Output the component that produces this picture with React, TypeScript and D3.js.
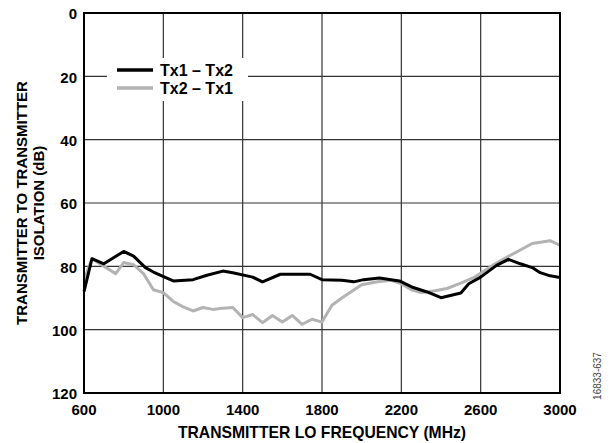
import React from "react";
import * as d3 from "d3";

const xTicks = [600, 1000, 1400, 1800, 2200, 2600, 3000];
const yTicks = [0, 20, 40, 60, 80, 100, 120];

const tx12Freq = [600, 640, 700, 800, 850, 910, 950, 1050, 1150, 1220, 1300, 1350, 1450, 1500, 1590, 1740, 1800, 1900, 1960, 2010, 2090, 2190, 2260, 2330, 2400, 2500, 2540, 2600, 2680, 2740, 2800, 2860, 2900, 2950, 3000];
const tx12Val = [88, 77.6, 79.2, 75.3, 76.8, 80.4, 81.8, 84.6, 84.2, 82.8, 81.5, 82, 83.4, 84.9, 82.5, 82.5, 84.2, 84.4, 84.9, 84.2, 83.7, 84.6, 86.7, 88.1, 89.9, 88.4, 85.5, 83.4, 79.7, 77.8, 79.2, 80.4, 82, 83, 83.5];

const tx21Freq = [600, 640, 700, 760, 800, 850, 900, 950, 1000, 1050, 1100, 1150, 1200, 1250, 1300, 1350, 1400, 1450, 1500, 1550, 1600, 1650, 1700, 1750, 1800, 1850, 1900, 2000, 2080, 2150, 2200, 2250, 2300, 2370, 2430, 2500, 2570, 2660, 2750, 2860, 2950, 3000];
const tx21Val = [84.4, 77.6, 80, 82.3, 78.8, 79.5, 82.3, 87.4, 88.3, 91.1, 92.8, 94.1, 93, 93.6, 93.2, 93, 96.2, 95.2, 97.8, 95.5, 97.6, 95.5, 98.3, 96.7, 97.6, 92.3, 90, 85.8, 84.9, 84.4, 85.5, 87.4, 88.3, 87.7, 87, 85.3, 83.4, 79.7, 76.5, 72.8, 71.9, 73.4];

const seriesNames = ["Tx1 – Tx2", "Tx2 – Tx1"];
const seriesColors = ["#000000", "#b3b3b3"];

export default function App() {
  const W = 610, H = 443;
  const L = 84, R = 560, T = 13, B = 393;
  const x = d3.scaleLinear().domain([600, 3000]).range([L, R]);
  const y = d3.scaleLinear().domain([0, 120]).range([T, B]);
  const line = d3.line<[number, number]>().x(d => x(d[0])).y(d => y(d[1]));
  const s1 = tx12Freq.map((f, i) => [f, tx12Val[i]] as [number, number]);
  const s2 = tx21Freq.map((f, i) => [f, tx21Val[i]] as [number, number]);
  const font = "Arial, 'Liberation Sans', sans-serif";
  return (
    <svg width={W} height={H} style={{ position: "absolute", left: 0, top: 0 }} fontFamily={font}>
      <rect width={W} height={H} fill="#fff" />
      {xTicks.slice(1, -1).map(t => (
        <line key={"gx" + t} x1={x(t)} x2={x(t)} y1={T} y2={B} stroke="#333" strokeWidth={1.2} />
      ))}
      {yTicks.slice(1, -1).map(t => (
        <line key={"gy" + t} x1={L} x2={R} y1={y(t)} y2={y(t)} stroke="#333" strokeWidth={1.2} />
      ))}
      <path d={line(s2) || ""} fill="none" stroke={seriesColors[1]} strokeWidth={3} strokeLinejoin="round" />
      <path d={line(s1) || ""} fill="none" stroke={seriesColors[0]} strokeWidth={3} strokeLinejoin="round" />
      <rect x={L} y={T} width={R - L} height={B - T} fill="none" stroke="#000" strokeWidth={2} />
      {/* legend */}
      <rect x={107} y={58} width={141} height={43} fill="#fff" />
      {seriesNames.map((n, i) => (
        <g key={n}>
          <line x1={117} x2={153} y1={70 + i * 18} y2={70 + i * 18} stroke={seriesColors[i]} strokeWidth={3.5} />
          <text x={160} y={76 + i * 18} fontSize={16} fontWeight="bold">{n}</text>
        </g>
      ))}
      {yTicks.map(t => (
        <text key={"ty" + t} x={77} y={y(t) + 1} dy="0.35em" textAnchor="end" fontSize={15} fontWeight="bold">{t}</text>
      ))}
      {xTicks.map(t => (
        <text key={"tx" + t} x={x(t)} y={415} textAnchor="middle" fontSize={15} fontWeight="bold">{t}</text>
      ))}
      <text x={(L + R) / 2} y={438} textAnchor="middle" fontSize={15.7} fontWeight="bold">TRANSMITTER LO FREQUENCY (MHz)</text>
      <text transform={`translate(27,${(T + B) / 2}) rotate(-90)`} textAnchor="middle" fontSize={15} fontWeight="bold">TRANSMITTER TO TRANSMITTER</text>
      <text transform={`translate(44,${(T + B) / 2}) rotate(-90)`} textAnchor="middle" fontSize={15} fontWeight="bold">ISOLATION (dB)</text>
      <text transform={`translate(601,376) rotate(-90)`} textAnchor="middle" fontSize={10} fill="#444">16833-637</text>
    </svg>
  );
}
